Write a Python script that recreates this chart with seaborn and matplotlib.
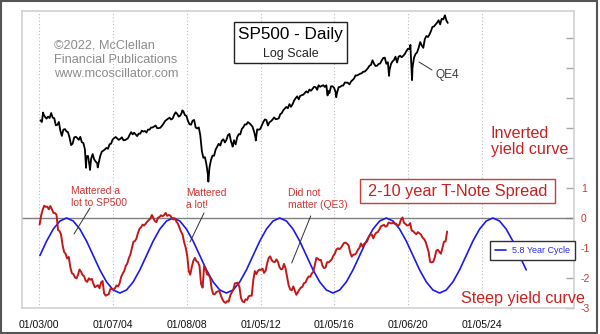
import numpy as np
import pandas as pd
import matplotlib
matplotlib.use("Agg")
import matplotlib.pyplot as plt
from matplotlib.patches import Rectangle
import seaborn as sns

# ---------------- data ----------------
# S&P 500 month-end closes, Jan 2000 .. Feb 2022
sp_month_close = [
    1394, 1366, 1499, 1452, 1421, 1455, 1431, 1518, 1437, 1429, 1315, 1320,
    1366, 1240, 1160, 1249, 1256, 1224, 1211, 1134, 1041, 1060, 1139, 1148,
    1130, 1107, 1147, 1077, 1067, 990, 912, 916, 815, 886, 936, 880,
    856, 841, 848, 917, 964, 975, 990, 1008, 996, 1051, 1058, 1112,
    1131, 1145, 1126, 1107, 1121, 1141, 1102, 1104, 1115, 1130, 1174, 1212,
    1181, 1204, 1181, 1157, 1192, 1191, 1234, 1220, 1229, 1207, 1249, 1248,
    1280, 1281, 1295, 1311, 1270, 1270, 1277, 1304, 1336, 1378, 1401, 1418,
    1438, 1407, 1421, 1482, 1531, 1503, 1455, 1474, 1527, 1549, 1481, 1468,
    1379, 1331, 1323, 1386, 1400, 1280, 1267, 1283, 1166, 969, 896, 903,
    826, 735, 798, 873, 919, 919, 987, 1021, 1057, 1036, 1096, 1115,
    1074, 1104, 1169, 1187, 1089, 1031, 1102, 1049, 1141, 1183, 1181, 1258,
    1286, 1327, 1326, 1364, 1345, 1321, 1292, 1219, 1131, 1253, 1247, 1258,
    1312, 1366, 1408, 1398, 1310, 1362, 1379, 1407, 1441, 1412, 1416, 1426,
    1498, 1515, 1569, 1598, 1631, 1606, 1686, 1633, 1682, 1757, 1806, 1848,
    1783, 1859, 1872, 1884, 1924, 1960, 1931, 2003, 1972, 2018, 2068, 2059,
    1995, 2105, 2068, 2086, 2107, 2063, 2104, 1972, 1920, 2079, 2080, 2044,
    1940, 1932, 2060, 2065, 2097, 2099, 2174, 2171, 2168, 2126, 2199, 2239,
    2279, 2364, 2363, 2384, 2412, 2423, 2470, 2472, 2519, 2575, 2648, 2674,
    2824, 2714, 2641, 2648, 2705, 2718, 2816, 2902, 2914, 2712, 2760, 2507,
    2704, 2784, 2834, 2946, 2752, 2942, 2980, 2926, 2977, 3038, 3141, 3231,
    3226, 2954, 2585, 2912, 3044, 3100, 3271, 3500, 3363, 3270, 3622, 3756,
    3714, 3811, 3973, 4181, 4204, 4298, 4395, 4523, 4308, 4605, 4567, 4766,
    4516, 4384,
]
# intra-month extremes visible on the daily chart
sp_extreme_dates = ["2000-03-24", "2002-07-23", "2002-10-09", "2003-03-11",
                    "2007-10-09", "2009-03-09", "2010-07-02", "2011-10-03",
                    "2015-08-25", "2016-02-11", "2018-12-24", "2020-02-19",
                    "2020-03-23", "2022-01-03"]
sp_extreme_values = [1527, 797, 777, 800, 1565, 677, 1022, 1099,
                     1867, 1829, 2351, 3386, 2237, 4796]

# 2-year minus 10-year T-Note yield (monthly average), Jan 2000 .. Feb 2022
spread_monthly = [
    -0.22, 0.09, 0.27, 0.41, 0.37, 0.38, 0.29, 0.40, 0.28, 0.17, 0.16, 0.11,
    -0.40, -0.44, -0.55, -0.91, -1.13, -1.20, -1.35, -1.30, -1.64, -1.84, -1.87, -1.98,
    -2.01, -1.89, -1.72, -1.79, -1.90, -1.94, -2.09, -2.13, -2.01, -2.06, -2.03, -2.19,
    -2.31, -2.27, -2.24, -2.34, -2.15, -2.10, -2.51, -2.59, -2.56, -2.54, -2.37, -2.36,
    -2.39, -2.34, -2.25, -2.28, -2.19, -1.97, -1.86, -1.77, -1.60, -1.52, -1.34, -1.22,
    -1.00, -0.79, -0.77, -0.69, -0.50, -0.36, -0.31, -0.22, -0.25, -0.19, -0.12, -0.07,
    -0.02, 0.10, 0.01, -0.10, -0.14, 0.01, 0.03, 0.09, 0.06, 0.10, 0.17, 0.07,
    0.10, 0.08, 0.00, -0.05, -0.01, -0.12, -0.19, -0.33, -0.46, -0.55, -0.81, -0.98,
    -1.26, -1.77, -1.89, -1.63, -1.43, -1.33, -1.44, -1.47, -1.61, -2.20, -2.32, -1.60,
    -1.71, -1.89, -1.89, -2.00, -2.37, -2.54, -2.54, -2.47, -2.44, -2.44, -2.60, -2.72,
    -2.80, -2.83, -2.77, -2.79, -2.59, -2.48, -2.39, -2.18, -2.17, -2.16, -2.31, -2.67,
    -2.78, -2.81, -2.71, -2.73, -2.61, -2.59, -2.59, -2.07, -1.77, -1.87, -1.76, -1.72,
    -1.73, -1.69, -1.83, -1.76, -1.51, -1.33, -1.28, -1.41, -1.46, -1.47, -1.38, -1.46,
    -1.64, -1.71, -1.70, -1.53, -1.68, -1.97, -2.24, -2.38, -2.41, -2.28, -2.42, -2.56,
    -2.47, -2.38, -2.32, -2.29, -2.17, -2.15, -2.03, -1.95, -1.96, -1.85, -1.80, -1.57,
    -1.33, -1.36, -1.40, -1.40, -1.59, -1.67, -1.65, -1.47, -1.48, -1.43, -1.38, -1.26,
    -1.19, -1.05, -1.01, -1.04, -0.99, -0.91, -0.83, -0.82, -0.86, -0.92, -1.16, -1.29,
    -1.22, -1.22, -1.17, -1.06, -1.00, -0.85, -0.95, -0.87, -0.82, -0.78, -0.64, -0.56,
    -0.55, -0.68, -0.56, -0.49, -0.47, -0.38, -0.28, -0.25, -0.23, -0.29, -0.26, -0.15,
    -0.17, -0.18, -0.16, -0.19, -0.19, -0.26, -0.22, -0.06, 0.02, -0.16, -0.20, -0.25,
    -0.24, -0.17, -0.42, -0.44, -0.50, -0.54, -0.47, -0.51, -0.55, -0.65, -0.70, -0.79,
    -0.95, -1.14, -1.46, -1.48, -1.46, -1.32, -1.10, -1.06, -1.13, -1.19, -1.00, -0.79,
    -0.78, -0.45,
]

# 5.8-year cycle, values read at regular steps starting 2000.06
cycle_start = 2000.056
cycle_step = 0.361
cycle_values = [
    -1.25, -0.77, -0.37, -0.10,
    0.00, -0.10, -0.37, -0.77, -1.25, -1.73, -2.13, -2.40,
    -2.50, -2.40, -2.13, -1.73, -1.25, -0.77, -0.37, -0.10,
    0.00, -0.10, -0.37, -0.77, -1.25, -1.73, -2.13, -2.40,
    -2.50, -2.40, -2.13, -1.73, -1.25, -0.77, -0.37, -0.10,
    0.00, -0.10, -0.37, -0.77, -1.25, -1.73, -2.13, -2.40,
    -2.50, -2.40, -2.13, -1.73, -1.25, -0.77, -0.37, -0.10,
    0.00, -0.10, -0.37, -0.77, -1.25, -1.73, -2.13, -2.40,
    -2.50, -2.40, -2.13, -1.73, -1.25, -0.77, -0.37, -0.10,
    0.00, -0.10, -0.37, -0.77, -1.25, -1.73,
]

tick_dates = ["2000-01-03", "2004-01-07", "2008-01-08", "2012-01-05",
              "2016-01-05", "2020-01-06", "2024-01-05"]
tick_labels = ["01/03/00", "01/07/04", "01/08/08", "01/05/12",
               "01/05/16", "01/06/20", "01/05/24"]
right_ticks = [-3, -2, -1, 0, 1, 2, 3, 4, 5, 6]
right_tick_labels = ["-3", "-2", "-1", "0", "1", "", "", "", "", ""]


def dec_year(dates):
    d = pd.DatetimeIndex(pd.to_datetime(dates))
    return np.asarray(d.year + (d.dayofyear - 1) / 365.25, dtype=float)


# ---------------- assemble frames ----------------
sp_month_dates = pd.date_range("2000-01-31", periods=len(sp_month_close), freq="ME")
sp_df = pd.DataFrame({
    "t": np.concatenate([dec_year(sp_month_dates), dec_year(sp_extreme_dates)]),
    "close": sp_month_close + sp_extreme_values,
}).sort_values("t")

spread_dates = pd.date_range("2000-01-01", periods=len(spread_monthly), freq="MS") + pd.Timedelta(days=14)
spread_df = pd.DataFrame({"t": dec_year(spread_dates), "spread": spread_monthly})

cycle_df = pd.DataFrame({
    "t": cycle_start + cycle_step * np.arange(len(cycle_values)),
    "cycle": cycle_values,
})

# ---------------- style ----------------
sns.set_style("white")
plt.rcParams["font.family"] = ["Liberation Sans", "DejaVu Sans"]

W, H = 600, 334
fig = plt.figure(figsize=(6.0, 3.34), dpi=100)
fig.patch.set_facecolor("white")


def fx(x):
    return x / W


def fy(y):
    return 1 - y / H


ax = fig.add_axes([fx(22), fy(308), (574 - 22) / W, (308 - 11) / H])
ax2 = ax.twinx()

# spread + cycle on main axis
ax.axhline(0, color="#808080", lw=1.0, zorder=1)
sns.lineplot(data=cycle_df, x="t", y="cycle", ax=ax, color="#1a1aee", lw=1.2,
             label="5.8 Year Cycle", zorder=3)
sns.lineplot(data=spread_df, x="t", y="spread", ax=ax, color="#c41818", lw=1.4,
             zorder=4, legend=False)

# SP500 on hidden log axis
ax2.set_yscale("log")
sns.lineplot(data=sp_df, x="t", y="close", ax=ax2, color="black", lw=1.3, legend=False)
ax2.set_ylim(153, 5045)
ax2.yaxis.set_visible(False)
for s in ax2.spines.values():
    s.set_visible(False)
ax2.set_xlabel("")
ax2.set_ylabel("")

# axes
ax.set_xlim(1999.084, 2029.0)
ax.set_ylim(-3, 6.9)
ax.set_xticks(dec_year(tick_dates))
ax.set_xticklabels(tick_labels)
ax.set_yticks(right_ticks)
ax.set_yticklabels(right_tick_labels)
ax.yaxis.tick_right()
ax.tick_params(axis="y", direction="in", length=6, width=1, color="#a8a8a8",
               labelcolor="#d03535", labelsize=7.5, pad=5,
               right=True, left=False, labelright=True, labelleft=False)
ax.tick_params(axis="x", length=0, labelsize=7.6, pad=9, labelcolor="#111111")
ax.set_xlabel("")
ax.set_ylabel("")
ax.grid(False)
ax.xaxis.grid(True, linestyle=(0, (1, 2)), color="#bcbcbc", lw=0.8)
for s in ax.spines.values():
    s.set_color("#d2d2d2")
    s.set_linewidth(1.2)

leg = ax.legend(loc="center", bbox_to_anchor=(fx(532.5), fy(250.5)),
                bbox_transform=fig.transFigure, fontsize=6.5, frameon=True,
                fancybox=False, edgecolor="#303030", framealpha=1,
                borderpad=0.55, handlelength=1.2, handletextpad=0.7,
                borderaxespad=0, labelcolor="#2a2af0")
leg.get_frame().set_linewidth(1.0)
leg.set_zorder(10)

# ---------------- texts ----------------
fig.add_artist(Rectangle((fx(234), fy(63)), (347 - 234) / W, (63 - 22) / H,
                         transform=fig.transFigure, facecolor="white",
                         edgecolor="#222222", lw=1.0, zorder=5))
fig.text(fx(290.5), fy(34), "SP500 - Daily", ha="center", va="center",
         fontsize=12.3, color="black", zorder=6)
fig.text(fx(290.5), fy(54), "Log Scale", ha="center", va="center",
         fontsize=9, color="#222222", zorder=6)

fig.add_artist(Rectangle((fx(360), fy(203)), (555 - 360) / W, (203 - 179) / H,
                         transform=fig.transFigure, facecolor="white",
                         edgecolor="#d03a3a", lw=1.0, zorder=5))
fig.text(fx(457.5), fy(191.5), "2-10 year T-Note Spread", ha="center", va="center",
         fontsize=11.7, color="#c82020", zorder=6)

gray = "#8c8c8c"
fig.text(fx(54), fy(48), "©2022, McClellan", ha="left", va="baseline", fontsize=9.2, color=gray)
fig.text(fx(54), fy(63), "Financial Publications", ha="left", va="baseline", fontsize=9.2, color=gray)
fig.text(fx(54), fy(77), "www.mcoscillator.com", ha="left", va="baseline", fontsize=9.2, color=gray)

red = "#cc2020"
fig.text(fx(491), fy(138), "Inverted", ha="left", va="baseline", fontsize=11.6, color=red)
fig.text(fx(491), fy(154), "yield curve", ha="left", va="baseline", fontsize=11.6, color=red)
fig.text(fx(461), fy(303), "Steep yield curve", ha="left", va="baseline", fontsize=11.6, color=red)

fig.text(fx(435), fy(78), "QE4", ha="left", va="baseline", fontsize=8.6, color="#404040")

ared = "#d03535"
fig.text(fx(71), fy(194), "Mattered a", ha="left", va="baseline", fontsize=7.4, color=ared)
fig.text(fx(71), fy(205.5), "lot to SP500", ha="left", va="baseline", fontsize=7.4, color=ared)
fig.text(fx(186), fy(196.5), "Mattered", ha="left", va="baseline", fontsize=7.4, color=ared)
fig.text(fx(186), fy(207.5), "a lot!", ha="left", va="baseline", fontsize=7.4, color=ared)
fig.text(fx(288), fy(195.5), "Did not", ha="left", va="baseline", fontsize=7.4, color=ared)
fig.text(fx(288), fy(208), "matter (QE3)", ha="left", va="baseline", fontsize=7.4, color=ared)

for (x1, y1), (x2, y2) in [((90, 208), (74, 234)), ((204, 213), (190, 242)),
                           ((310.7, 216), (291.7, 263)), ((419, 62), (432, 70))]:
    ax.annotate("", xy=(fx(x2), fy(y2)), xytext=(fx(x1), fy(y1)),
                xycoords="figure fraction", textcoords="figure fraction",
                arrowprops=dict(arrowstyle="-", color="#303030", lw=0.7,
                                shrinkA=0, shrinkB=0), zorder=7)

# figure border
fig.add_artist(Rectangle((fx(1), fy(333)), (597 - 1) / W, (333 - 1) / H,
                         transform=fig.transFigure, fill=False,
                         edgecolor="#555555", lw=1.5, zorder=8))

fig.savefig("out.png", dpi=100, facecolor="white")
